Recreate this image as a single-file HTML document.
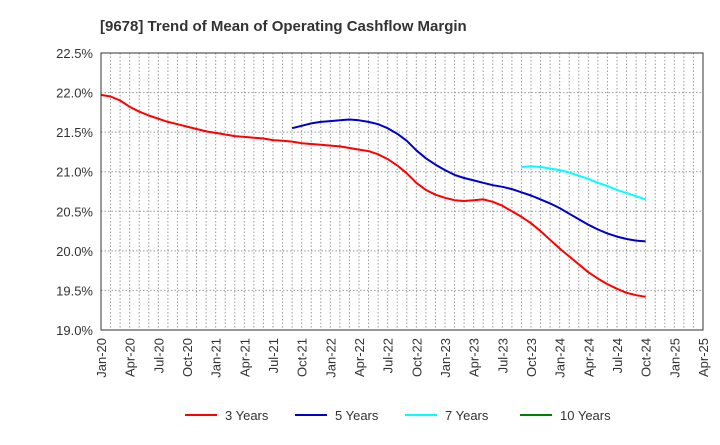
<!DOCTYPE html>
<html><head><meta charset="utf-8"><style>
body{margin:0;background:#fff;font-family:"Liberation Sans",sans-serif}
</style></head><body>
<svg id="c" width="720" height="440" xmlns="http://www.w3.org/2000/svg">
<text x="100" y="31" font-size="15" font-weight="bold" fill="#333">[9678]  Trend of Mean of Operating Cashflow Margin</text>
<g id="grid"></g><g id="series"></g><g id="axes"></g><g id="legend"></g>
</svg>
<script>
const yTicks=[19.0,19.5,20.0,20.5,21.0,21.5,22.0,22.5];
const xLabels=["Jan-20","Apr-20","Jul-20","Oct-20","Jan-21","Apr-21","Jul-21","Oct-21","Jan-22","Apr-22","Jul-22","Oct-22","Jan-23","Apr-23","Jul-23","Oct-23","Jan-24","Apr-24","Jul-24","Oct-24","Jan-25","Apr-25"];
const seriesNames=["3 Years","5 Years","7 Years","10 Years"];
const seriesColors=["#ff0000","#0000cc","#00ffff","#008000"];
const s3=[21.97,21.95,21.90,21.82,21.76,21.71,21.67,21.63,21.60,21.57,21.54,21.51,21.49,21.47,21.45,21.44,21.43,21.42,21.40,21.39,21.38,21.36,21.35,21.34,21.33,21.32,21.30,21.28,21.26,21.22,21.16,21.08,20.98,20.86,20.77,20.71,20.67,20.64,20.63,20.64,20.65,20.62,20.57,20.50,20.43,20.35,20.25,20.14,20.03,19.93,19.83,19.73,19.65,19.58,19.52,19.47,19.44,19.42];
const s5=[null,null,null,null,null,null,null,null,null,null,null,null,null,null,null,null,null,null,null,null,21.55,21.58,21.61,21.63,21.64,21.65,21.66,21.65,21.63,21.60,21.55,21.48,21.39,21.27,21.17,21.09,21.02,20.96,20.92,20.89,20.86,20.83,20.81,20.78,20.74,20.70,20.65,20.60,20.54,20.47,20.40,20.33,20.27,20.22,20.18,20.15,20.13,20.12];
const s7=[null,null,null,null,null,null,null,null,null,null,null,null,null,null,null,null,null,null,null,null,null,null,null,null,null,null,null,null,null,null,null,null,null,null,null,null,null,null,null,null,null,null,null,null,21.06,21.07,21.06,21.04,21.02,20.99,20.95,20.91,20.86,20.82,20.77,20.73,20.69,20.65];
const s10=[];
const L=101,R=703,T=53,B=330,NM=63;
const X=i=>L+(R-L)*i/NM;
const Y=v=>B-(v-19)/3.5*(B-T);
const NS="http://www.w3.org/2000/svg";
function mk(p,t,a){const e=document.createElementNS(NS,t);for(const k in a)e.setAttribute(k,a[k]);p.appendChild(e);return e;}
const g=document.getElementById('grid'),ax=document.getElementById('axes'),se=document.getElementById('series'),lg=document.getElementById('legend');
for(let m=1;m<NM;m++){const l=mk(g,'line',{x1:X(m),x2:X(m),y1:T,y2:B,stroke:'#999','stroke-dasharray':'1.5,2','stroke-width':1});

}
yTicks.forEach(v=>{const l=mk(g,'line',{x1:L,x2:R,y1:Y(v),y2:Y(v),stroke:'#999','stroke-dasharray':'1.5,2','stroke-width':1});


const t=mk(ax,'text',{x:L-8,y:Y(v)+5,'text-anchor':'end','font-size':13,fill:'#333'});t.textContent=v.toFixed(1)+'%';

});
xLabels.forEach((s,i)=>{const x=X(i*3);const t=mk(ax,'text',{transform:`translate(${x+5},${B+8}) rotate(-90)`,'text-anchor':'end','font-size':13,fill:'#333'});t.textContent=s;

});
const fr=mk(ax,'rect',{x:L,y:T,width:R-L,height:B-T,fill:'none',stroke:'#333','stroke-width':1});


[s3,s5,s7,s10].forEach((arr,k)=>{let d='';let pen=false;arr.forEach((v,i)=>{if(v==null){pen=false;return;}d+=(pen?'L':'M')+X(i).toFixed(1)+','+Y(v).toFixed(1);pen=true;});
if(d){const p=mk(se,'path',{d:d,fill:'none',stroke:seriesColors[k],'stroke-width':2,'stroke-linejoin':'round'});

}});
const lx=[185,295,405,520];
seriesNames.forEach((n,k)=>{const gg=mk(lg,'g',{});


mk(gg,'line',{x1:lx[k],x2:lx[k]+32,y1:415,y2:415,stroke:seriesColors[k],'stroke-width':2});
const t=mk(gg,'text',{x:lx[k]+40,y:420,'font-size':13,fill:'#333'});t.textContent=n;});
</script>
</body></html>
